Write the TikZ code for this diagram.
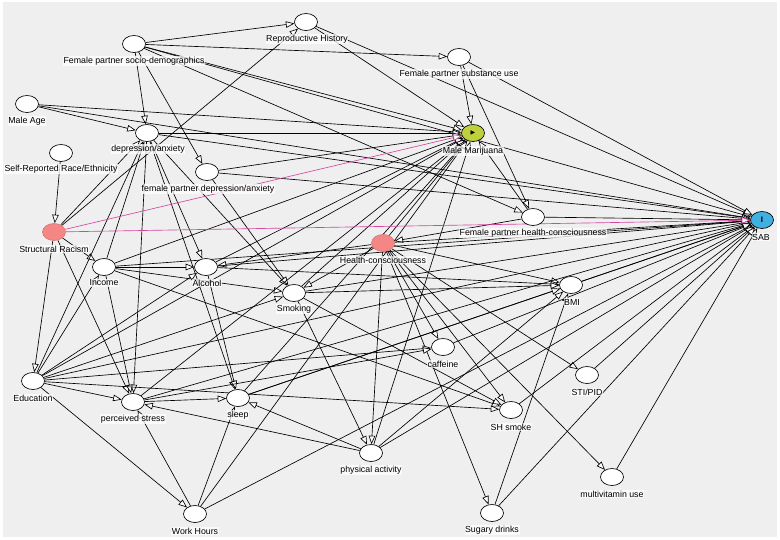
\documentclass[tikz,border=0pt]{standalone}
\usepackage{fontspec}
\setmainfont{Liberation Sans}
\newfontfamily\symf{DejaVu Sans}
\usetikzlibrary{shapes.geometric,arrows.meta}
\pgfdeclarelayer{back}
\pgfdeclarelayer{edges}
\pgfsetlayers{back,edges,main}
\definecolor{bgc}{RGB}{239,239,239}
\definecolor{expc}{RGB}{190,208,60}
\definecolor{outc}{RGB}{64,176,224}
\definecolor{confc}{RGB}{244,134,134}
\definecolor{pinkl}{RGB}{214,70,160}
\tikzset{
  var/.style={ellipse, draw=black, line width=0.65pt, fill=white, minimum width=23pt, minimum height=17pt, inner sep=0pt},
  expo/.style={var, fill=expc},
  outc/.style={var, fill=outc},
  conf/.style={var, fill=confc, draw=confc!90!black},
  lab/.style={font=\fontsize{8.8}{9}\selectfont, fill=white, fill opacity=0.75, text opacity=1, inner sep=0.6pt},
  edge/.style={draw=black, line width=0.65pt, -{Triangle[length=8.5pt,width=6.5pt,fill=white]}},
  biased/.style={edge, draw=pinkl},
}
\begin{document}
\begin{tikzpicture}[x=1pt,y=-1pt]
\useasboundingbox (0,0) rectangle (780,539);
\begin{pgfonlayer}{back}
\fill[white] (0,0) rectangle (780,539);
\fill[bgc] (3,2) rectangle (777,537);
\end{pgfonlayer}
% variables
\node[var] (rh) at (306,22) {};
\node[var] (fpsd) at (134,44) {};
\node[var] (fpsu) at (459,57) {};
\node[var] (ma) at (27,104) {};
\node[var] (da) at (147,133) {};
\node[expo] (mm) at (473,133) {\symf\fontsize{6}{6}\selectfont ▶};
\node[var] (srre) at (61,153) {};
\node[var] (fpda) at (207,172) {};
\node[var] (fphc) at (533,217) {};
\node[outc] (sab) at (762,220) {\fontsize{8}{8}\selectfont\bfseries I};
\node[conf] (sr) at (54,232) {};
\node[conf] (hc) at (383,243) {};
\node[var] (inc) at (104,267) {};
\node[var] (alc) at (206,267) {};
\node[var] (smk) at (294,293) {};
\node[var] (bmi) at (571,285) {};
\node[var] (caf) at (443,347) {};
\node[var] (edu) at (33,381) {};
\node[var] (sti) at (587,375) {};
\node[var] (ps) at (133,402) {};
\node[var] (slp) at (238,398) {};
\node[var] (shs) at (511,410) {};
\node[var] (pa) at (371,453) {};
\node[var] (mv) at (612,477) {};
\node[var] (wh) at (195,514) {};
\node[var] (sd) at (492,513) {};
% edges
\begin{pgfonlayer}{edges}
\foreach \a/\b in {fpsd/rh, fpsd/fpsu, fpsd/mm, fpsd/sab, fpsd/da, fpsd/fpda, fpsd/fphc,
  rh/mm, rh/sab, sr/rh,
  fpsu/mm, fpsu/sab, fpsu/fphc,
  ma/da, ma/mm, ma/sab,
  srre/sr, sr/inc, sr/edu, sr/ps, sr/da,
  da/mm, da/sab, da/alc, da/smk, da/ps, da/slp,
  fpda/mm, fpda/sab, fpda/smk,
  fphc/mm, fphc/sab, fphc/hc,
  hc/mm, hc/sab, hc/alc, hc/smk, hc/caf, hc/shs, hc/pa, hc/sd, hc/mv, hc/bmi, hc/sti,
  inc/mm, inc/sab, inc/alc, inc/smk, inc/ps, inc/shs, inc/da,
  edu/mm, edu/sab, edu/inc, edu/alc, edu/smk, edu/ps, edu/wh, edu/da, edu/shs, edu/caf,
  alc/mm, alc/sab, alc/slp, alc/bmi,
  smk/mm, smk/sab, smk/shs, smk/pa, smk/bmi,
  ps/mm, ps/sab, ps/slp, ps/caf,
  slp/mm, slp/sab, slp/bmi,
  pa/mm, pa/sab, pa/slp, pa/ps, pa/bmi,
  wh/mm, wh/sab, wh/ps, wh/slp,
  caf/sab, bmi/sab, sti/sab, shs/sab, mv/sab, sd/sab, sd/bmi}
  \draw[edge] (\a) -- (\b);
\draw[biased] (sr) -- (mm);
\draw[biased] (sr) -- (sab);
\end{pgfonlayer}
% labels
\node[lab] (l-rh) at (307,39) {Reproductive History};
\node[lab] (l-fpsd) at (134,61) {Female partner socio-demographics};
\node[lab] (l-fpsu) at (459,74) {Female partner substance use};
\node[lab] (l-ma) at (27,121) {Male Age};
\node[lab] (l-da) at (148,149) {depression/anxiety};
\node[lab] (l-mm) at (473,151) {Male Marijuana};
\node[lab] (l-srre) at (61,169) {Self-Reported Race/Ethnicity};
\node[lab] (l-fpda) at (208,189) {female partner depression/anxiety};
\node[lab] (l-fphc) at (533,233) {Female partner health-consciousness};
\node[lab] (l-sab) at (761,237) {SAB};
\node[lab] (l-sr) at (54,249) {Structural Racism};
\node[lab] (l-hc) at (383,260) {Health-consciousness};
\node[lab] (l-inc) at (104,283) {Income};
\node[lab] (l-alc) at (207,283) {Alcohol};
\node[lab] (l-smk) at (294,309) {Smoking};
\node[lab] (l-bmi) at (572,302) {BMI};
\node[lab] (l-caf) at (443,364) {caffeine};
\node[lab] (l-edu) at (33,398) {Education};
\node[lab] (l-sti) at (587,392) {STI/PID};
\node[lab] (l-ps) at (133,419) {perceived stress};
\node[lab] (l-slp) at (238,415) {sleep};
\node[lab] (l-shs) at (511,427) {SH smoke};
\node[lab] (l-pa) at (371,470) {physical activity};
\node[lab] (l-mv) at (612,494) {multivitamin use};
\node[lab] (l-wh) at (195,531) {Work Hours};
\node[lab] (l-sd) at (492,530) {Sugary drinks};
\end{tikzpicture}
\end{document}
